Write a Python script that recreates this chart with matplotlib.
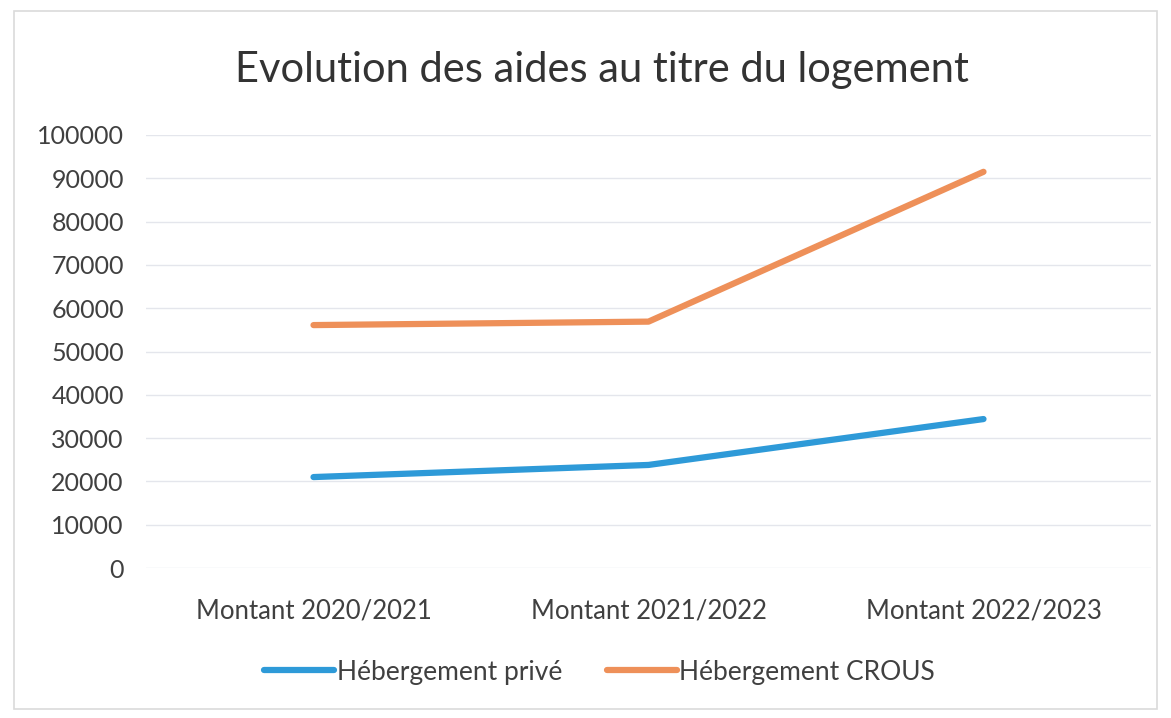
import matplotlib.pyplot as plt
from matplotlib.patches import Rectangle

plt.rcParams['font.family'] = ['Lato', 'DejaVu Sans']

CATEGORIES = ['Montant 2020/2021', 'Montant 2021/2022', 'Montant 2022/2023']
PRIVE = [21000, 23800, 34400]
CROUS = [56100, 56900, 91500]
YTICKS = list(range(0, 100001, 10000))

fig = plt.figure(figsize=(11.71, 7.18), dpi=100)
ax = fig.add_axes([146 / 1171, 1 - 568 / 718, 1005 / 1171, 433 / 718])

x = range(len(CATEGORIES))
ax.plot(x, PRIVE, color='#2E9AD8', lw=4.5, solid_capstyle='round', label='Hébergement privé')
ax.plot(x, CROUS, color='#EE9059', lw=4.5, solid_capstyle='round', label='Hébergement CROUS')

ax.set_xlim(-0.5, 2.5)
ax.set_ylim(0, 100000)
ax.set_yticks(YTICKS)
ax.set_yticklabels([str(v) for v in YTICKS])
ax.set_xticks(list(x))
ax.set_xticklabels(CATEGORIES)
ax.tick_params(axis='both', length=0, labelcolor='#404040')
ax.tick_params(axis='y', pad=16, labelsize=18)
ax.tick_params(axis='x', pad=22, labelsize=18.5)
ax.grid(axis='y', color='#E4E6EC', lw=1)
ax.set_axisbelow(True)
for s in ax.spines.values():
    s.set_visible(False)

fig.suptitle('Evolution des aides au titre du logement', x=0.514, y=0.903, va='center',
             fontsize=30, color='#333333')

leg = fig.legend(loc='center', bbox_to_anchor=(0.512, 0.064), ncol=2, frameon=False,
                 fontsize=19, handlelength=2.65, handletextpad=0.1, columnspacing=1.7)
for t in leg.get_texts():
    t.set_color('#404040')

fig.patches.append(Rectangle((0.012, 0.012), 0.976, 0.972, transform=fig.transFigure,
                             fill=False, ec='#DADADA', lw=1.2))

fig.savefig('out.png', dpi=100, facecolor='white')
